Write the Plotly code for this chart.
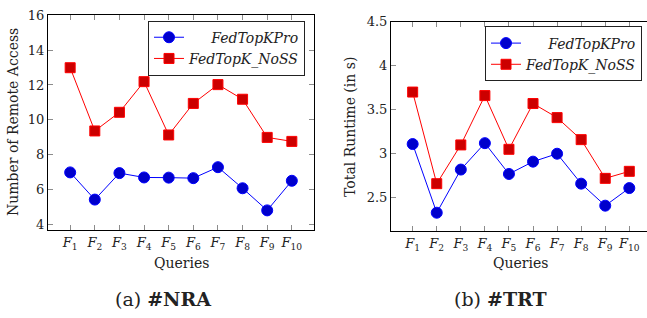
import plotly.graph_objects as go

queries = [1, 2, 3, 4, 5, 6, 7, 8, 9, 10]
tick_labels = ["<i>F</i><sub>%d</sub>" % i for i in queries]

nra_pro = [6.98, 5.42, 6.94, 6.69, 6.68, 6.65, 7.28, 6.07, 4.80, 6.50]
nra_noss = [12.99, 9.36, 10.43, 12.19, 9.13, 10.94, 12.02, 11.18, 8.99, 8.76]

trt_pro = [3.11, 2.33, 2.82, 3.12, 2.77, 2.91, 3.00, 2.66, 2.41, 2.61]
trt_noss = [3.70, 2.66, 3.10, 3.66, 3.05, 3.57, 3.41, 3.16, 2.72, 2.80]

name_pro = "<i>FedTopKPro</i>"
name_noss = "<i>FedTopK_NoSS</i>"

FONT = "DejaVu Serif"
W, H = 647, 318

blue_line, blue_fill = "#0000ff", "#0000cc"
red_line, red_fill = "#ff0000", "#cc0000"

fig = go.Figure()

def add_pair(pro, noss, xa, ya, legend):
    fig.add_trace(go.Scatter(
        x=queries, y=pro, mode="lines+markers", name="\u00a0" * 5 + name_pro,
        line=dict(color=blue_line, width=1),
        marker=dict(symbol="circle", size=11, color=blue_fill,
                    line=dict(color=blue_line, width=1)),
        xaxis=xa, yaxis=ya, legend=legend))
    fig.add_trace(go.Scatter(
        x=queries, y=noss, mode="lines+markers", name=name_noss,
        line=dict(color=red_line, width=1),
        marker=dict(symbol="square", size=10, color=red_fill,
                    line=dict(color=red_line, width=1)),
        xaxis=xa, yaxis=ya, legend=legend))

add_pair(nra_pro, nra_noss, "x", "y", "legend")
add_pair(trt_pro, trt_noss, "x2", "y2", "legend2")

axis_common = dict(
    showgrid=False, zeroline=False, showline=True, linecolor="black",
    linewidth=1, ticks="inside", ticklen=5, tickwidth=1, tickcolor="#8c8c8c",
    tickfont=dict(family=FONT, size=13, color="#222"),
)

def px_x(v):
    return v / W

def px_y(v):
    return 1 - v / H

legend_common = dict(
    xanchor="right", yanchor="top",
    bordercolor="#222", borderwidth=1, bgcolor="white",
    font=dict(family=FONT, size=14, color="#222"),
    tracegroupgap=0, itemwidth=30,
)

fig.update_layout(
    width=W, height=H, autosize=False,
    margin=dict(l=0, r=0, t=0, b=0),
    paper_bgcolor="white", plot_bgcolor="white",
    font=dict(family=FONT, size=14, color="#222"),
    xaxis=dict(domain=[px_x(48), px_x(314)], range=[0.1, 10.9],
               tickvals=queries, ticktext=tick_labels, mirror="ticks",
               anchor="y", **axis_common),
    yaxis=dict(domain=[px_y(229), px_y(8.5)], range=[3.66, 16],
               tickvals=[4, 6, 8, 10, 12, 14, 16], mirror="ticks",
               anchor="x", **axis_common),
    xaxis2=dict(domain=[px_x(391), 1.0], range=[0.1, 10.735],
                tickvals=queries, ticktext=tick_labels, mirror="ticks",
                anchor="y2", **axis_common),
    yaxis2=dict(domain=[px_y(230), px_y(15)], range=[2.12, 4.5],
                tickvals=[2.5, 3, 3.5, 4, 4.5], ticktext=["2.5", "3", "3.5", "4", "4.5"],
                mirror=False, anchor="x2", **axis_common),
    legend=dict(x=px_x(305), y=px_y(14), **legend_common),
    legend2=dict(x=px_x(642), y=px_y(20), **legend_common),
    showlegend=True,
)

annots = [
    dict(text="Number of Remote Access", x=px_x(13), y=px_y(118), textangle=-90, size=14),
    dict(text="Total Runtime (in s)", x=px_x(350), y=px_y(123), textangle=-90, size=14),
    dict(text="Queries", x=px_x(181), y=px_y(263), textangle=0, size=14),
    dict(text="Queries", x=px_x(520), y=px_y(263), textangle=0, size=14),
    dict(text="(a) <b>#NRA</b>", x=px_x(163), y=px_y(300), textangle=0, size=19),
    dict(text="(b) <b>#TRT</b>", x=px_x(500), y=px_y(300), textangle=0, size=19),
]
for a in annots:
    fig.add_annotation(text=a["text"], x=a["x"], y=a["y"], xref="paper", yref="paper",
                       xanchor="center", yanchor="middle", textangle=a["textangle"],
                       showarrow=False, font=dict(family=FONT, size=a["size"], color="#222"))

fig.write_html("out.html", config={"displayModeBar": False},
               post_script="document.body.style.margin='0';")
